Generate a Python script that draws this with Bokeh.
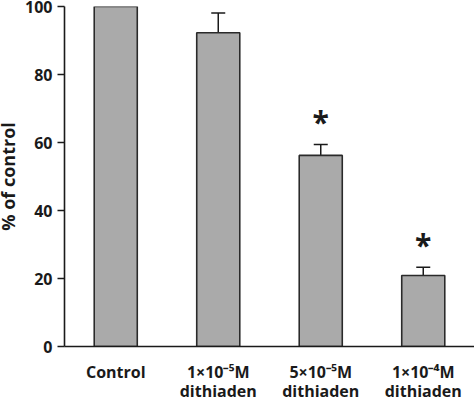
from bokeh.plotting import figure
from bokeh.models import ColumnDataSource, Whisker, Range1d, FactorRange, TeeHead
from bokeh.core.properties import value
from bokeh.embed import file_html
from bokeh.resources import INLINE

categories = ["Control", "1×10⁻⁵M\ndithiaden", "5×10⁻⁵M\ndithiaden", "1×10⁻⁴M\ndithiaden"]
means = [100.0, 92.3, 56.2, 20.9]
errors = [0.0, 5.8, 3.2, 2.4]
significant = [False, False, True, True]
y_ticks = [0, 20, 40, 60, 80, 100]

FONT = "Open Sans"

upper = [m + e for m, e in zip(means, errors)]
src = ColumnDataSource(dict(cat=categories, mean=means, upper=upper))

err_src = ColumnDataSource(dict(
    cat=[c for c, e in zip(categories, errors) if e > 0],
    lower=[m for m, e in zip(means, errors) if e > 0],
    upper=[m + e for m, e in zip(means, errors) if e > 0],
))

star_src = ColumnDataSource(dict(
    cat=[c for c, s in zip(categories, significant) if s],
    y=[u + 8.0 for u, s in zip(upper, significant) if s],
    t=["*" for s in significant if s],
))

p = figure(
    x_range=FactorRange(*categories, range_padding=0),
    y_range=Range1d(0, 100),
    frame_width=410, frame_height=340,
    output_backend="svg", toolbar_location=None,
    min_border_left=72, min_border_right=0, min_border_top=6, min_border_bottom=55,
    margin=(0, 0, 0, -8),
)
p.outline_line_color = None
p.grid.visible = False
p.background_fill_color = "white"
p.border_fill_color = "white"

p.vbar(x="cat", top="mean", bottom=0, width=0.42, source=src,
       fill_color="#aaaaaa", line_color="#2a2a2a", line_width=1.6)

w = Whisker(base="cat", upper="upper", lower="lower", source=err_src,
            line_color="#1a1a1a", line_width=1.5,
            upper_head=TeeHead(size=14, line_color="#1a1a1a", line_width=1.5),
            lower_head=None)
p.add_layout(w)

p.text(x="cat", y="y", text="t", source=star_src, text_font=value(FONT),
       text_font_size="30px", text_font_style="bold", text_align="center",
       text_baseline="middle", text_color="#1a1a1a", y_offset=4)

p.yaxis.ticker = y_ticks
p.yaxis.axis_line_color = "#1a1a1a"
p.yaxis.axis_line_width = 1.6
p.yaxis.major_tick_line_color = "#1a1a1a"
p.yaxis.major_tick_line_width = 1.5
p.yaxis.major_tick_out = 7
p.yaxis.major_tick_in = 0
p.yaxis.minor_tick_line_color = None
p.yaxis.major_label_text_font = FONT
p.yaxis.major_label_text_font_style = "bold"
p.yaxis.major_label_text_font_size = "16px"
p.yaxis.major_label_text_color = "#1a1a1a"
p.yaxis.major_label_standoff = 5
p.yaxis.axis_label = "% of control"
p.yaxis.axis_label_text_font = FONT
p.yaxis.axis_label_text_font_style = "bold"
p.yaxis.axis_label_text_font_size = "18px"
p.yaxis.axis_label_text_color = "#1a1a1a"
p.yaxis.axis_label_standoff = 2

p.xaxis.axis_line_color = "#1a1a1a"
p.xaxis.axis_line_width = 1.6
p.xaxis.major_tick_line_color = None
p.xaxis.minor_tick_line_color = None
p.xaxis.major_label_text_font = FONT
p.xaxis.major_label_text_font_style = "bold"
p.xaxis.major_label_text_font_size = "16px"
p.xaxis.major_label_text_color = "#1a1a1a"
p.xaxis.major_label_standoff = 8
p.xaxis.major_label_text_line_height = 0.88

open("out.html", "w").write(file_html(p, INLINE))
